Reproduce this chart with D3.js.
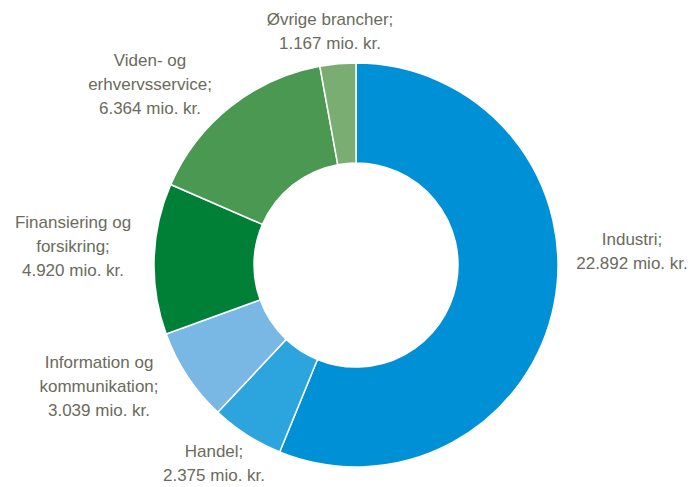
<!DOCTYPE html>
<html><head><meta charset="utf-8">
<script src="https://cdn.jsdelivr.net/npm/d3@7"></script>
<style>html,body{margin:0;padding:0;background:#fff;}</style>
</head><body>
<svg id="chart" width="694" height="487"></svg>
<script>
const categories = ["Industri", "Handel", "Information og kommunikation", "Finansiering og forsikring", "Viden- og erhvervsservice", "Øvrige brancher"];
const values = [22892, 2375, 3039, 4920, 6364, 1167];
const valueLabels = ["22.892 mio. kr.", "2.375 mio. kr.", "3.039 mio. kr.", "4.920 mio. kr.", "6.364 mio. kr.", "1.167 mio. kr."];
const labelLines = [["Industri;"], ["Handel;"], ["Information og", "kommunikation;"], ["Finansiering og", "forsikring;"], ["Viden- og", "erhvervsservice;"], ["Øvrige brancher;"]];
const colors = ["#0090D5", "#2CA4DE", "#79B7E4", "#007F36", "#4A9852", "#79AD72"];
// label anchor layout (center of text block, relative to chart center)
const labelLayout = [[276, -14], [-142, 198], [-257, 121], [-283, -19], [-206, -181], [-26, -234]];

const svg = d3.select("#chart");
const cx = 356, cy = 265, R = 202, r0 = 102;
const g = svg.append("g").attr("transform", `translate(${cx},${cy})`);
const pie = d3.pie().sort(null).value(d => d)(values);
const arc = d3.arc().innerRadius(r0).outerRadius(R);
g.selectAll("path").data(pie).join("path")
  .attr("d", arc).attr("fill", (d, i) => colors[i])
  .attr("stroke", "#fff").attr("stroke-width", 1.5);

const fs = 17, lh = 24;
categories.forEach((c, i) => {
  const lines = labelLines[i].concat([valueLabels[i]]);
  const [lx, ly] = labelLayout[i];
  const t = g.append("text").attr("text-anchor", "middle")
    .attr("font-family", "Liberation Sans, Arial, sans-serif")
    .attr("font-size", fs).attr("fill", "#6B6B5C");
  const y0 = ly - (lines.length - 1) * lh / 2;
  lines.forEach((l, k) => {
    t.append("tspan").attr("x", lx).attr("y", y0 + k * lh).attr("dy", "0.35em").text(l);
  });
});
</script>
</body></html>
